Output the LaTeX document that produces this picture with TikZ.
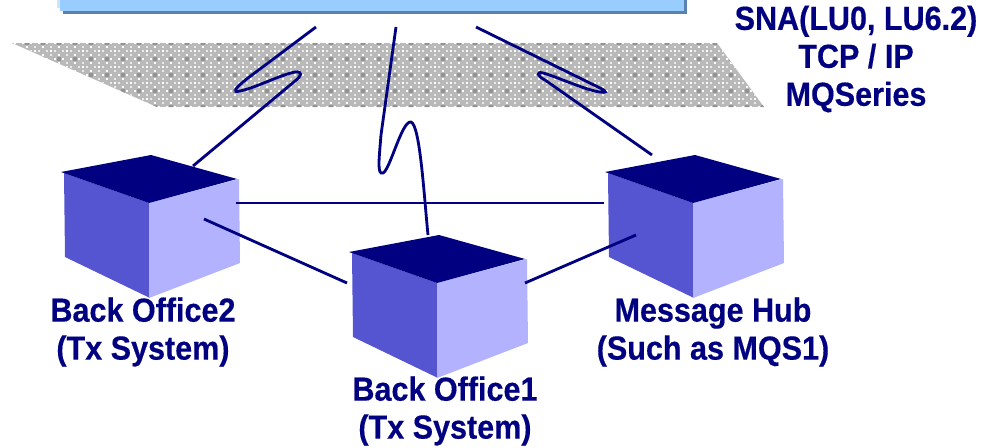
\documentclass[tikz,border=0pt]{standalone}
\usepackage{fontspec}
\setmainfont{Liberation Sans}[BoldFeatures={FakeStretch=.915,FakeBold=.4}]
\definecolor{navy}{RGB}{0,0,128}
\definecolor{cubeleft}{RGB}{85,85,210}
\definecolor{cuberight}{RGB}{178,178,255}
\definecolor{hostblue}{RGB}{153,204,255}
\definecolor{hostshadow}{RGB}{90,130,175}
\definecolor{bandgray}{RGB}{185,185,185}
\tikzset{
  wire/.style={navy, line width=1.6pt},
  lbl/.style={navy, align=center, font=\fontsize{19}{21.6}\selectfont\bfseries},
}
\newcommand{\cubebox}[1]{%
  \fill[cubeleft] (#1) ++(3,1) -- ++(85,30) -- ++(1,95) -- ++(-85,-41) -- cycle;
  \fill[cuberight] (#1) ++(88,31) -- ++(90,-24) -- ++(1,84) -- ++(-91,35) -- cycle;
  \fill[navy] (#1) -- ++(90,-17) -- ++(86,24) -- ++(-88,24) -- cycle;
}
\begin{document}
\begin{tikzpicture}[x=.02cm,y=-.02cm]
\useasboundingbox (0,0) rectangle (988,447);

% host box, cut by the top edge
\fill[hostshadow] (63,0) rectangle (687,14);
\fill[hostblue!50] (57,0) rectangle (60,8);
\fill[hostblue] (60,0) rectangle (684,11);

% network band
\begin{scope}
\clip (12,43) -- (717,43) -- (764,107) -- (157,107) -- cycle;
\fill[bandgray] (0,43) rectangle (770,107);
\foreach \x in {11,27,...,779}
  \foreach \y in {43,59,...,107}{
    \fill[gray!85] (\x-2,\y-2) rectangle +(4,4);
    \fill[white] (\x-5,\y-1) rectangle +(2,2);
    \fill[white] (\x+3,\y-1) rectangle +(2,2);
    \fill[white] (\x-1,\y-5) rectangle +(2,2);
    \fill[white] (\x-1,\y+3) rectangle +(2,2);
    \fill[white] (\x+7,\y+7) rectangle +(2,2);
    \fill[white!70!bandgray] (\x+3,\y+7) rectangle +(2,2);
    \fill[white!70!bandgray] (\x+11,\y+7) rectangle +(2,2);
    \fill[white!70!bandgray] (\x+7,\y+3) rectangle +(2,2);
    \fill[white!70!bandgray] (\x+7,\y+11) rectangle +(2,2);
  }
\end{scope}

\coordinate (office2) at (61,172);
\coordinate (office1) at (349,252);
\coordinate (hub) at (605,172);

% link ends
\coordinate (host2) at (316,27);
\coordinate (host1) at (396,27);
\coordinate (host3) at (476,27);
\coordinate (office2up) at (193,166);
\coordinate (office1up) at (428,235);
\coordinate (hubup) at (652,155);
\coordinate (office2east) at (236,203);
\coordinate (hubwest) at (604,203);
\coordinate (office2south) at (204,219);
\coordinate (office1west) at (347,283);
\coordinate (office1east) at (525,283);
\coordinate (hubsouth) at (636,235);

\cubebox{office2}
\cubebox{office1}
\cubebox{hub}

\draw[wire] (office2east) -- (hubwest);
\draw[wire] (office2south) -- (office1west);
\draw[wire] (office1east) -- (hubsouth);

\draw[wire] (host2) -- (248,78) .. controls (234,89) and (232,93) .. (240,91)
  .. controls (255,88) and (280,75) .. (295,72)
  .. controls (303,71) and (302,76) .. (295,81) -- (office2up);
\draw[wire] (host1) -- (381,135) .. controls (379,160) and (377,175) .. (383,173)
  .. controls (390,170) and (402,120) .. (411,122)
  .. controls (420,125) and (424,195) .. (office1up);
\draw[wire] (host3) -- (600,88) .. controls (608,92) and (606,93) .. (600,92)
  .. controls (585,90) and (555,76) .. (543,73)
  .. controls (536,71) and (537,76) .. (545,80) -- (hubup);

\node[lbl] (protocols) at (856,59) {SNA(LU0, LU6.2)\\TCP / IP\\MQSeries};
\node[lbl] (office2lbl) at (143,332) {Back Office2\\(Tx System)};
\node[lbl] (office1lbl) at (445,411) {Back Office1\\(Tx System)};
\node[lbl] (hublbl) at (713,332) {Message Hub\\(Such as MQS1)};
\end{tikzpicture}
\end{document}
